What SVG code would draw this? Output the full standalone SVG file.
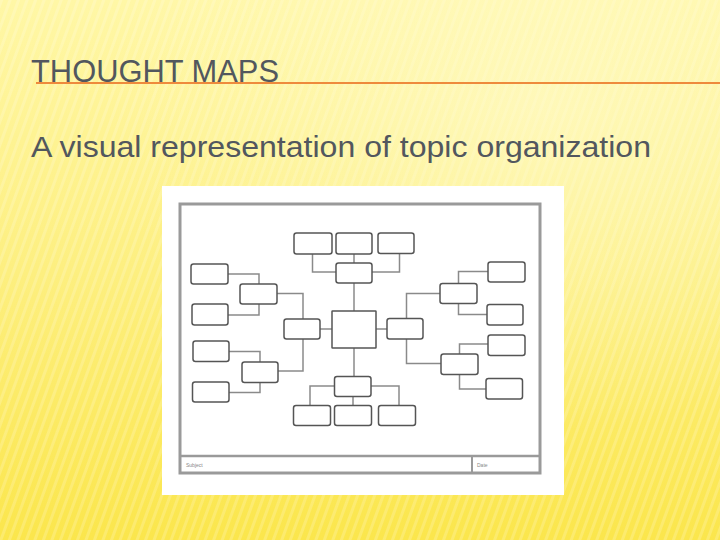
<svg xmlns="http://www.w3.org/2000/svg" width="720" height="540" viewBox="0 0 720 540">
<defs>
<linearGradient id="bg" x1="0" y1="0" x2="0" y2="1">
<stop offset="0" stop-color="#fff7a6"/>
<stop offset="0.5" stop-color="#fdef80"/>
<stop offset="1" stop-color="#fbe64c"/>
</linearGradient>
<radialGradient id="hl" cx="0.75" cy="0.2" r="0.6">
<stop offset="0" stop-color="#fffbd0" stop-opacity="0.6"/>
<stop offset="1" stop-color="#fffbd0" stop-opacity="0"/>
</radialGradient>
<pattern id="stripes" width="8" height="8" patternUnits="userSpaceOnUse" patternTransform="rotate(20)">
<rect width="3" height="8" fill="#ffffff" opacity="0.18"/>
</pattern>
<style>
.box{fill:#ffffff;stroke:#555;stroke-width:1.5}
.conn{fill:none;stroke:#8a8a8a;stroke-width:1.5}
.title{font-family:"Liberation Sans",Arial,sans-serif;fill:#52575e}
.tiny{font-family:"Liberation Sans",Arial,sans-serif;font-size:5px;fill:#888}
</style>
</defs>
<rect width="720" height="540" fill="url(#bg)"/>
<rect width="720" height="540" fill="url(#stripes)"/>
<rect width="720" height="540" fill="url(#hl)"/>
<text class="title" x="31" y="82" font-size="32" textLength="248" lengthAdjust="spacingAndGlyphs">THOUGHT MAPS</text>
<line x1="36" y1="83" x2="720" y2="83" stroke="#ee8a3c" stroke-width="2"/>
<text class="title" x="31" y="157" font-size="30" textLength="620" lengthAdjust="spacingAndGlyphs">A visual representation of topic organization</text>

<g id="panel">
<rect x="162" y="186" width="402" height="309" fill="#ffffff"/>
<rect x="180" y="204" width="360" height="269" fill="none" stroke="#9a9a9a" stroke-width="3"/>
<line x1="180" y1="456" x2="540" y2="456" stroke="#9a9a9a" stroke-width="2.5"/>
<line x1="472" y1="456" x2="472" y2="473" stroke="#9a9a9a" stroke-width="2"/>
<text class="tiny" x="186" y="467">Subject</text>
<text class="tiny" x="477" y="467">Date</text>
</g>

<g id="connectors">
<path class="conn" d="M312.5,254 V272 H336"/>
<path class="conn" d="M399.5,254 V272 H372"/>
<path class="conn" d="M354,254 V263"/>
<path class="conn" d="M354,283 V311"/>
<path class="conn" d="M320,329 H332"/>
<path class="conn" d="M376,329 H387"/>
<path class="conn" d="M277,293.5 H303 V319"/>
<path class="conn" d="M303,339 V371 H278"/>
<path class="conn" d="M228,274 H259 V284"/>
<path class="conn" d="M228,315 H259 V304"/>
<path class="conn" d="M229,351.5 H260 V362"/>
<path class="conn" d="M229,392.5 H260 V382"/>
<path class="conn" d="M406.5,318 V293.5 H440"/>
<path class="conn" d="M406.5,339 V363.5 H441"/>
<path class="conn" d="M458.5,283 V271.5 H488"/>
<path class="conn" d="M458.5,303 V314.5 H487"/>
<path class="conn" d="M459.5,354 V344 H488"/>
<path class="conn" d="M459.5,374 V389 H486"/>
<path class="conn" d="M354,348 V377"/>
<path class="conn" d="M334,386 H310 V406"/>
<path class="conn" d="M371,386 H399 V406"/>
<path class="conn" d="M353,397 V406"/>
</g>

<g id="top1"><rect class="box" x="294" y="233" width="38" height="21" rx="2.5"/></g>
<g id="top2"><rect class="box" x="336" y="233" width="36" height="21" rx="2.5"/></g>
<g id="top3"><rect class="box" x="378" y="233" width="36" height="20.5" rx="2.5"/></g>
<g id="topMid"><rect class="box" x="336" y="263" width="36" height="20" rx="2.5"/></g>
<g id="center"><rect class="box" x="332" y="311" width="44" height="37" rx="0.5"/></g>
<g id="leftMid"><rect class="box" x="284" y="319" width="36" height="20" rx="2.5"/></g>
<g id="rightMid"><rect class="box" x="387" y="318.5" width="36" height="20.5" rx="2.5"/></g>
<g id="leftUpper"><rect class="box" x="240" y="284" width="37" height="20" rx="2.5"/></g>
<g id="leftLower"><rect class="box" x="242" y="362" width="36" height="20.5" rx="2.5"/></g>
<g id="leafA"><rect class="box" x="191" y="264" width="37" height="20" rx="2.5"/></g>
<g id="leafB"><rect class="box" x="192" y="304" width="36" height="21" rx="2.5"/></g>
<g id="leafC"><rect class="box" x="193" y="341" width="36" height="20.5" rx="2.5"/></g>
<g id="leafD"><rect class="box" x="192.5" y="382" width="36.5" height="20" rx="2.5"/></g>
<g id="rightUpper"><rect class="box" x="440" y="283.5" width="37" height="20" rx="2.5"/></g>
<g id="rightLower"><rect class="box" x="441" y="354" width="37" height="20.5" rx="2.5"/></g>
<g id="leafE"><rect class="box" x="488" y="262" width="37" height="20" rx="2.5"/></g>
<g id="leafF"><rect class="box" x="487" y="304.5" width="36" height="20.5" rx="2.5"/></g>
<g id="leafG"><rect class="box" x="488" y="335" width="37" height="20.5" rx="2.5"/></g>
<g id="leafH"><rect class="box" x="486" y="378.5" width="36.5" height="20.5" rx="2.5"/></g>
<g id="bottomMid"><rect class="box" x="334.5" y="376.5" width="36.5" height="20" rx="2.5"/></g>
<g id="bottom1"><rect class="box" x="293.5" y="405.5" width="37" height="20" rx="2.5"/></g>
<g id="bottom2"><rect class="box" x="334.5" y="405.5" width="37" height="20" rx="2.5"/></g>
<g id="bottom3"><rect class="box" x="378.5" y="405.5" width="37" height="20" rx="2.5"/></g>
</svg>
